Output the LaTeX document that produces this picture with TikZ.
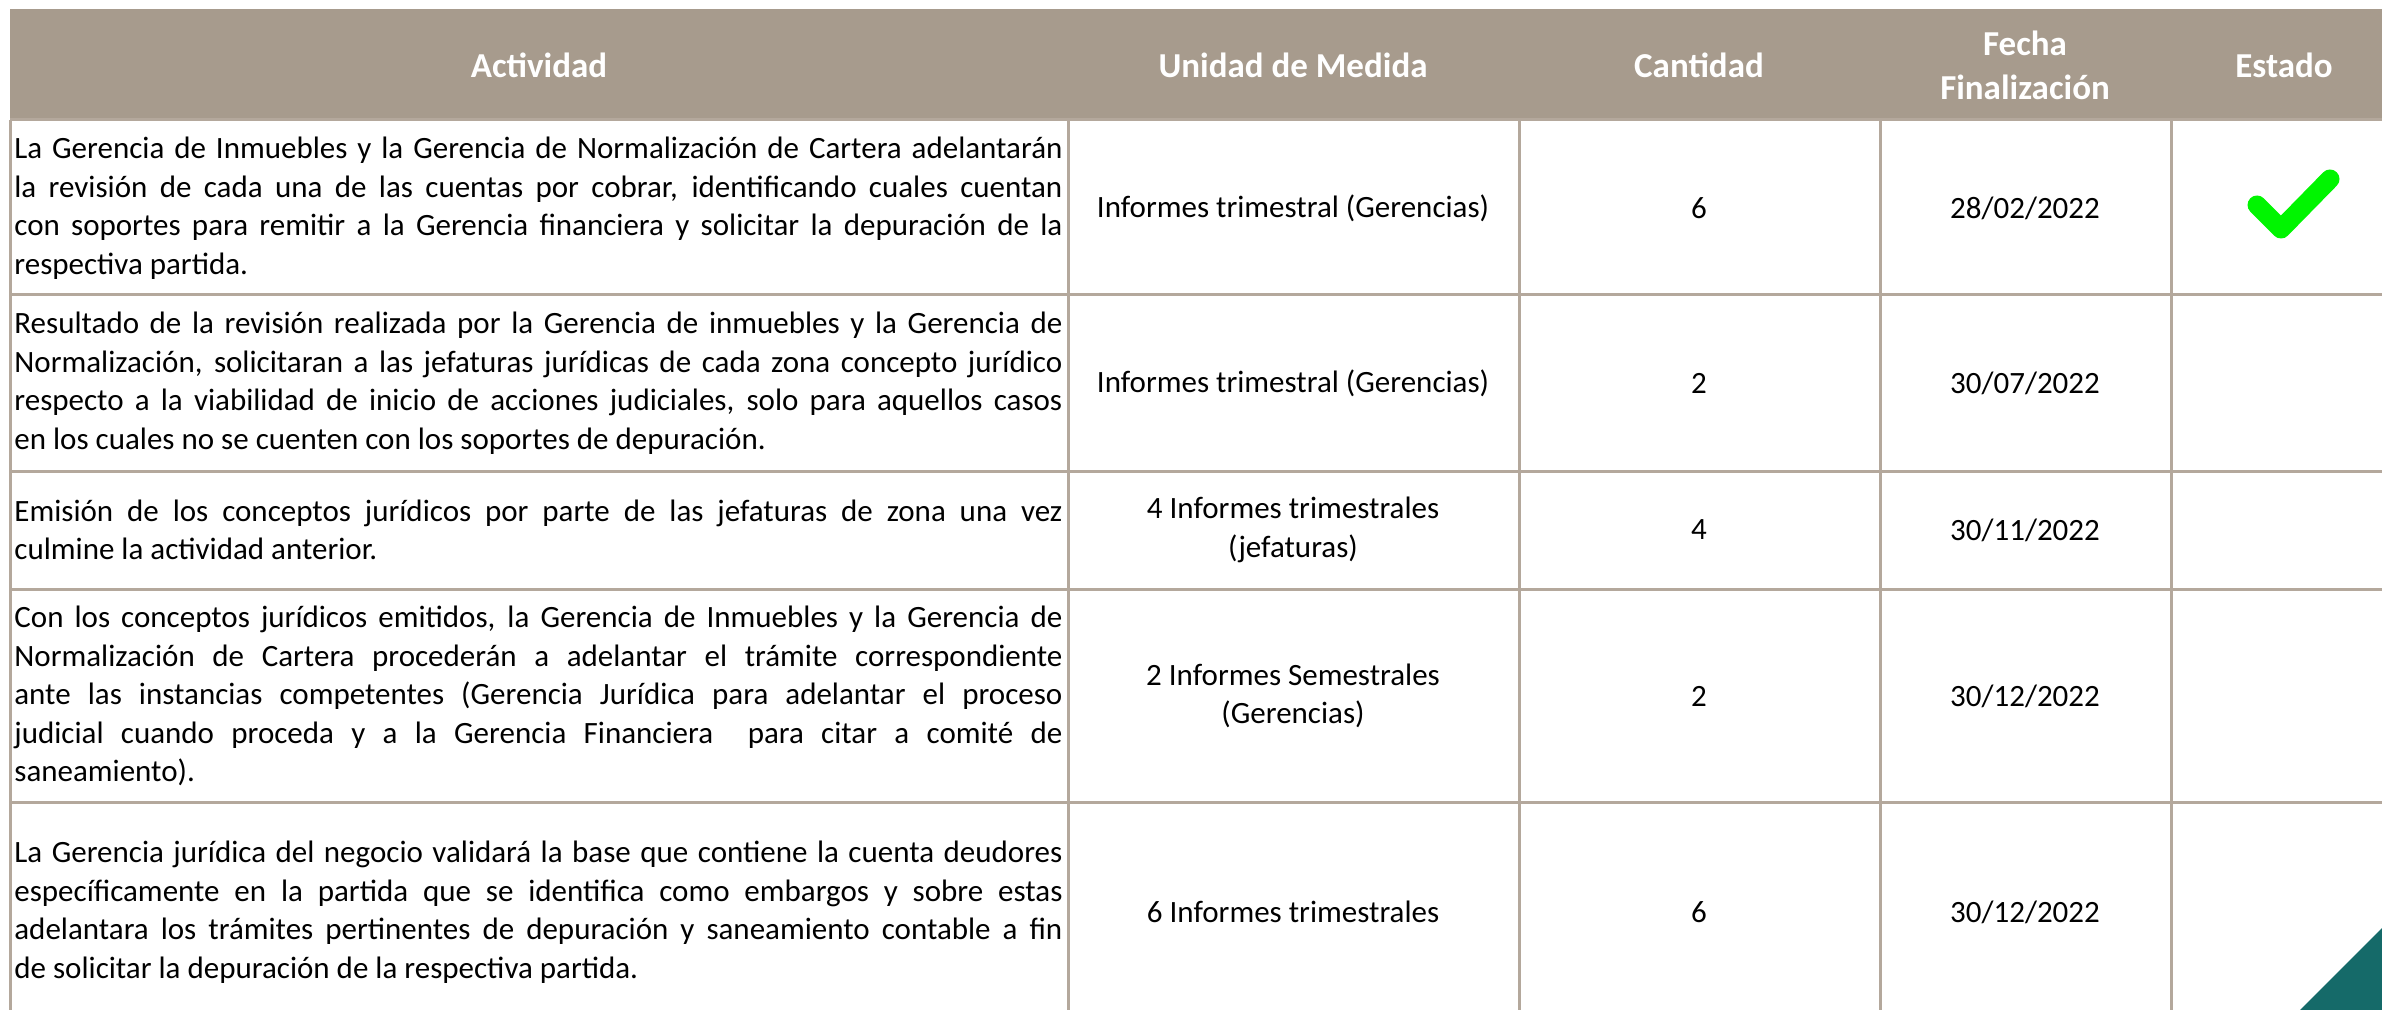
\documentclass[tikz,border=0pt]{standalone}
\usepackage{fontspec}
\setmainfont{Carlito}
\usetikzlibrary{positioning}

\definecolor{headbg}{RGB}{167,155,141}
\definecolor{gridcol}{RGB}{180,168,156}
\definecolor{okgreen}{RGB}{0,245,0}
\definecolor{cornerteal}{RGB}{21,106,105}

\begin{document}
\begin{tikzpicture}[x=0.5pt,y=-0.5pt,
  head/.style={text=white,font=\fontsize{17.5}{22}\selectfont\bfseries,align=center,inner sep=0pt},
  activity/.style={anchor=west,text width=524pt,align=justify,inner sep=0pt,
    font=\fontsize{15.5}{19.25}\selectfont},
  cell/.style={align=center,inner sep=0pt,font=\fontsize{15.5}{19.25}\selectfont},
  grid/.style={draw=gridcol,line width=1.5pt}]

  \useasboundingbox (0,0) rectangle (2382,1010);
  \clip (0,0) rectangle (2382,1010);

  % header band
  \fill[headbg] (10,9) rectangle (2400,120);
  \node[head] (h_act) at (539,65) {Actividad};
  \node[head] (h_unit) at (1293,65) {Unidad de Medida};
  \node[head] (h_qty) at (1699,65) {Cantidad};
  \node[head] (h_date) at (2025,65) {Fecha\\Finalización};
  \node[head] (h_state) at (2284,65) {Estado};

  % grid
  \draw[grid] (10,120) -- (2400,120);
  \draw[grid] (10,295) -- (2400,295);
  \draw[grid] (10,471) -- (2400,471);
  \draw[grid] (10,589) -- (2400,589);
  \draw[grid] (10,802) -- (2400,802);
  \draw[grid] (10,120) -- (10,1030);
  \draw[grid] (1068,120) -- (1068,1030);
  \draw[grid] (1519,120) -- (1519,1030);
  \draw[grid] (1880,120) -- (1880,1030);
  \draw[grid] (2171,120) -- (2171,1030);

  % row 1
  \node[activity] (a1) at (14,208) {La Gerencia de Inmuebles y la Gerencia de Normalización de Cartera adelantarán\linebreak
    la revisión de cada una de las cuentas por cobrar, identificando cuales cuentan\linebreak
    con soportes para remitir a la Gerencia financiera y solicitar la depuración de la\linebreak
    respectiva partida.};
  \node[cell] (u1) at (1293,208) {Informes trimestral (Gerencias)};
  \node[cell] (q1) at (1699,208) {6};
  \node[cell] (d1) at (2025,208) {28/02/2022};
  \coordinate (s1) at (2284,208);
  \draw[okgreen,line width=9.5pt,line cap=round,line join=round]
    ([shift={(-27,-3)}]s1) -- ([shift={(-3,21)}]s1) -- ([shift={(46,-29)}]s1);

  % row 2
  \node[activity] (a2) at (14,383) {Resultado de la revisión realizada por la Gerencia de inmuebles y la Gerencia de\linebreak
    Normalización, solicitaran a las jefaturas jurídicas de cada zona concepto jurídico\linebreak
    respecto a la viabilidad de inicio de acciones judiciales, solo para aquellos casos\linebreak
    en los cuales no se cuenten con los soportes de depuración.};
  \node[cell] (u2) at (1293,383) {Informes trimestral (Gerencias)};
  \node[cell] (q2) at (1699,383) {2};
  \node[cell] (d2) at (2025,383) {30/07/2022};

  % row 3
  \node[activity] (a3) at (14,530) {Emisión de los conceptos jurídicos por parte de las jefaturas de zona una vez\linebreak
    culmine la actividad anterior.};
  \node[cell] (u3) at (1293,530) {4 Informes trimestrales\\(jefaturas)};
  \node[cell] (q3) at (1699,530) {4};
  \node[cell] (d3) at (2025,530) {30/11/2022};

  % row 4
  \node[activity] (a4) at (14,696) {Con los conceptos jurídicos emitidos, la Gerencia de Inmuebles y la Gerencia de\linebreak
    Normalización de Cartera procederán a adelantar el trámite correspondiente\linebreak
    ante las instancias competentes (Gerencia Jurídica para adelantar el proceso\linebreak
    judicial cuando proceda y a la Gerencia Financiera\ \ para citar a comité de\linebreak
    saneamiento).};
  \node[cell] (u4) at (1293,696) {2 Informes Semestrales\\(Gerencias)};
  \node[cell] (q4) at (1699,696) {2};
  \node[cell] (d4) at (2025,696) {30/12/2022};

  % row 5
  \node[activity] (a5) at (14,912) {La Gerencia jurídica del negocio validará la base que contiene la cuenta deudores\linebreak
    específicamente en la partida que se identifica como embargos y sobre estas\linebreak
    adelantara los trámites pertinentes de depuración y saneamiento contable a fin\linebreak
    de solicitar la depuración de la respectiva partida.};
  \node[cell] (u5) at (1293,912) {6 Informes trimestrales};
  \node[cell] (q5) at (1699,912) {6};
  \node[cell] (d5) at (2025,912) {30/12/2022};

  % corner
  \fill[cornerteal] (2300,1010) -- (2382,928) -- (2382,1010) -- cycle;

\end{tikzpicture}
\end{document}
